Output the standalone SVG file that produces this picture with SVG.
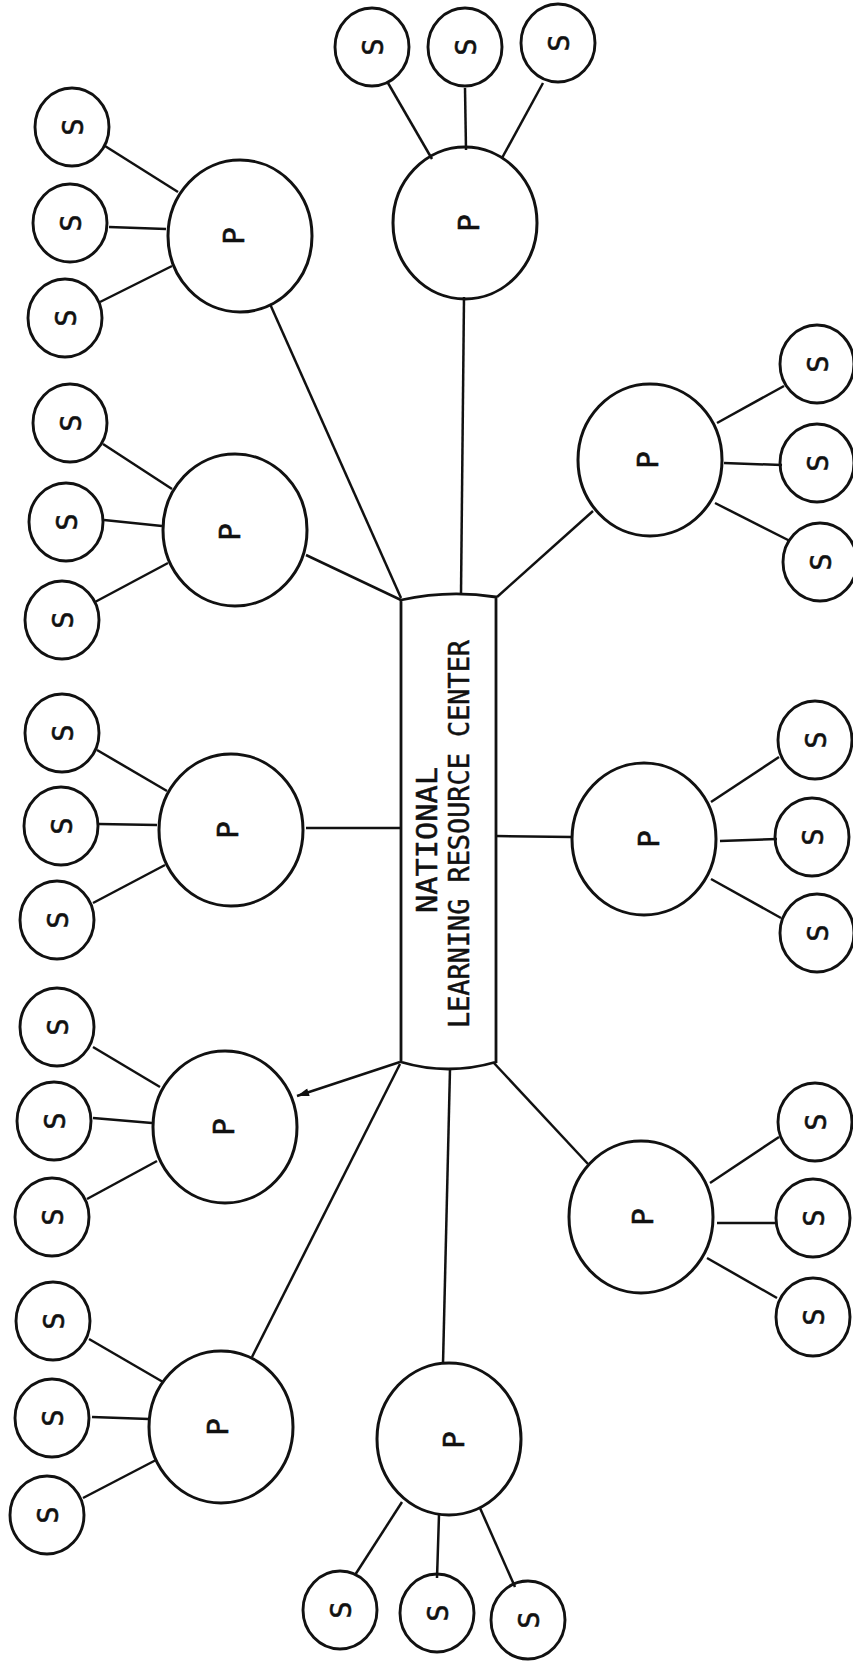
<svg xmlns="http://www.w3.org/2000/svg" width="853" height="1665" viewBox="0 0 853 1665">
<style>
  .bg{fill:#ffffff}
  .p{fill:none;stroke:#111;stroke-width:3}
  .s{fill:none;stroke:#111;stroke-width:2.9}
  .hub{fill:#fff;stroke:#111;stroke-width:2.8}
  .ln{stroke:#111;stroke-width:2.5;fill:none}
  .lbl{font-family:"DejaVu Sans Mono","Liberation Mono",monospace;font-size:29px;fill:#111;stroke:#111;stroke-width:0.6;text-anchor:middle}
  .title{font-family:"DejaVu Sans Mono","Liberation Mono",monospace;font-size:28px;fill:#111;stroke:#111;stroke-width:0.5;text-anchor:middle}
</style>
<defs>
  <marker id="arr" viewBox="0 0 12 8" refX="12" refY="4" markerWidth="13" markerHeight="8" markerUnits="userSpaceOnUse" orient="auto">
    <path d="M0,0 L12,4 L0,8 z" fill="#111"/>
  </marker>
</defs>
<rect class="bg" x="0" y="0" width="853" height="1665"/>

<g id="connectors">
  <line class="ln" x1="401" y1="598" x2="270" y2="304"/>
  <line class="ln" x1="401" y1="600" x2="306" y2="555"/>
  <line class="ln" x1="401" y1="828" x2="306" y2="828"/>
  <line class="ln" x1="400" y1="1062" x2="297" y2="1096" marker-end="url(#arr)"/>
  <line class="ln" x1="400" y1="1064" x2="252" y2="1357"/>
  <line class="ln" x1="450" y1="1069" x2="443" y2="1364"/>
  <line class="ln" x1="461" y1="594" x2="464" y2="297"/>
  <line class="ln" x1="497" y1="597" x2="593" y2="511"/>
  <line class="ln" x1="496" y1="836" x2="572" y2="837"/>
  <line class="ln" x1="493" y1="1062" x2="588" y2="1164"/>
  <line class="ln" x1="105" y1="146" x2="178" y2="192"/>
  <line class="ln" x1="109" y1="227" x2="166" y2="229"/>
  <line class="ln" x1="100" y1="302" x2="172" y2="266"/>
  <line class="ln" x1="103" y1="444" x2="172" y2="489"/>
  <line class="ln" x1="104" y1="520" x2="162" y2="526"/>
  <line class="ln" x1="95" y1="602" x2="168" y2="563"/>
  <line class="ln" x1="97" y1="750" x2="167" y2="791"/>
  <line class="ln" x1="99" y1="824" x2="157" y2="825"/>
  <line class="ln" x1="93" y1="903" x2="165" y2="865"/>
  <line class="ln" x1="93" y1="1047" x2="160" y2="1087"/>
  <line class="ln" x1="93" y1="1118" x2="152" y2="1123"/>
  <line class="ln" x1="87" y1="1199" x2="157" y2="1161"/>
  <line class="ln" x1="89" y1="1339" x2="163" y2="1382"/>
  <line class="ln" x1="92" y1="1417" x2="149" y2="1419"/>
  <line class="ln" x1="83" y1="1498" x2="156" y2="1460"/>
  <line class="ln" x1="355" y1="1575" x2="402" y2="1502"/>
  <line class="ln" x1="437" y1="1578" x2="439" y2="1515"/>
  <line class="ln" x1="515" y1="1587" x2="480" y2="1508"/>
  <line class="ln" x1="388" y1="83" x2="432" y2="159"/>
  <line class="ln" x1="465" y1="88" x2="466" y2="150"/>
  <line class="ln" x1="543" y1="83" x2="502" y2="158"/>
  <line class="ln" x1="784" y1="386" x2="717" y2="423"/>
  <line class="ln" x1="782" y1="465" x2="724" y2="463"/>
  <line class="ln" x1="790" y1="541" x2="715" y2="503"/>
  <line class="ln" x1="779" y1="757" x2="711" y2="802"/>
  <line class="ln" x1="777" y1="839" x2="720" y2="841"/>
  <line class="ln" x1="781" y1="918" x2="711" y2="879"/>
  <line class="ln" x1="779" y1="1137" x2="710" y2="1183"/>
  <line class="ln" x1="776" y1="1223" x2="717" y2="1223"/>
  <line class="ln" x1="777" y1="1298" x2="707" y2="1258"/>
</g>

<g id="hub">
  <path class="hub" d="M401,600 L401,1062 Q448,1076 496,1062 L496,597 Q448,589.5 401,600 Z"/>
  <text class="title" transform="translate(437,840) rotate(-90)" textLength="146" lengthAdjust="spacingAndGlyphs">NATIONAL</text>
  <text class="title" transform="translate(469,834) rotate(-90)" textLength="388" lengthAdjust="spacingAndGlyphs">LEARNING RESOURCE CENTER</text>
</g>

<g id="p1"><ellipse class="p" cx="240" cy="236" rx="72" ry="76"/><text class="lbl" transform="translate(244,236) rotate(-90)">P</text></g>
<g id="p2"><ellipse class="p" cx="235" cy="530" rx="72" ry="76"/><text class="lbl" transform="translate(240,532) rotate(-90)">P</text></g>
<g id="p3"><ellipse class="p" cx="231" cy="830" rx="72" ry="76"/><text class="lbl" transform="translate(238,830) rotate(-90)">P</text></g>
<g id="p4"><ellipse class="p" cx="225" cy="1127" rx="72" ry="76"/><text class="lbl" transform="translate(234,1127) rotate(-90)">P</text></g>
<g id="p5"><ellipse class="p" cx="221" cy="1427" rx="72" ry="76"/><text class="lbl" transform="translate(228,1427) rotate(-90)">P</text></g>
<g id="p6"><ellipse class="p" cx="449" cy="1439" rx="72" ry="76"/><text class="lbl" transform="translate(464,1440) rotate(-90)">P</text></g>
<g id="p7"><ellipse class="p" cx="465" cy="223" rx="72" ry="76"/><text class="lbl" transform="translate(479,223) rotate(-90)">P</text></g>
<g id="p8"><ellipse class="p" cx="650" cy="460" rx="72" ry="76"/><text class="lbl" transform="translate(658,460) rotate(-90)">P</text></g>
<g id="p9"><ellipse class="p" cx="644" cy="839" rx="72" ry="76"/><text class="lbl" transform="translate(659,839) rotate(-90)">P</text></g>
<g id="p10"><ellipse class="p" cx="641" cy="1217" rx="72" ry="76"/><text class="lbl" transform="translate(653,1217) rotate(-90)">P</text></g>

<g id="s1a"><ellipse class="s" cx="72" cy="127" rx="37" ry="39"/><text class="lbl" transform="translate(83,127) rotate(-90)">S</text></g>
<g id="s1b"><ellipse class="s" cx="70" cy="223" rx="37" ry="39"/><text class="lbl" transform="translate(81,223) rotate(-90)">S</text></g>
<g id="s1c"><ellipse class="s" cx="65" cy="318" rx="37" ry="39"/><text class="lbl" transform="translate(76,318) rotate(-90)">S</text></g>
<g id="s2a"><ellipse class="s" cx="70" cy="423" rx="37" ry="39"/><text class="lbl" transform="translate(81,423) rotate(-90)">S</text></g>
<g id="s2b"><ellipse class="s" cx="66" cy="522" rx="37" ry="39"/><text class="lbl" transform="translate(77,522) rotate(-90)">S</text></g>
<g id="s2c"><ellipse class="s" cx="62" cy="620" rx="37" ry="39"/><text class="lbl" transform="translate(73,620) rotate(-90)">S</text></g>
<g id="s3a"><ellipse class="s" cx="62" cy="733" rx="37" ry="39"/><text class="lbl" transform="translate(73,733) rotate(-90)">S</text></g>
<g id="s3b"><ellipse class="s" cx="61" cy="826" rx="37" ry="39"/><text class="lbl" transform="translate(72,826) rotate(-90)">S</text></g>
<g id="s3c"><ellipse class="s" cx="57" cy="920" rx="37" ry="39"/><text class="lbl" transform="translate(68,920) rotate(-90)">S</text></g>
<g id="s4a"><ellipse class="s" cx="57" cy="1027" rx="37" ry="39"/><text class="lbl" transform="translate(68,1027) rotate(-90)">S</text></g>
<g id="s4b"><ellipse class="s" cx="54" cy="1121" rx="37" ry="39"/><text class="lbl" transform="translate(65,1121) rotate(-90)">S</text></g>
<g id="s4c"><ellipse class="s" cx="52" cy="1217" rx="37" ry="39"/><text class="lbl" transform="translate(63,1217) rotate(-90)">S</text></g>
<g id="s5a"><ellipse class="s" cx="53" cy="1321" rx="37" ry="39"/><text class="lbl" transform="translate(64,1321) rotate(-90)">S</text></g>
<g id="s5b"><ellipse class="s" cx="52" cy="1418" rx="37" ry="39"/><text class="lbl" transform="translate(63,1418) rotate(-90)">S</text></g>
<g id="s5c"><ellipse class="s" cx="47" cy="1515" rx="37" ry="39"/><text class="lbl" transform="translate(58,1515) rotate(-90)">S</text></g>
<g id="s6a"><ellipse class="s" cx="340" cy="1610" rx="37" ry="39"/><text class="lbl" transform="translate(351,1610) rotate(-90)">S</text></g>
<g id="s6b"><ellipse class="s" cx="437" cy="1613" rx="37" ry="39"/><text class="lbl" transform="translate(448,1613) rotate(-90)">S</text></g>
<g id="s6c"><ellipse class="s" cx="528" cy="1620" rx="37" ry="39"/><text class="lbl" transform="translate(539,1620) rotate(-90)">S</text></g>
<g id="s7a"><ellipse class="s" cx="372" cy="47" rx="37" ry="39"/><text class="lbl" transform="translate(383,47) rotate(-90)">S</text></g>
<g id="s7b"><ellipse class="s" cx="465" cy="47" rx="37" ry="39"/><text class="lbl" transform="translate(476,47) rotate(-90)">S</text></g>
<g id="s7c"><ellipse class="s" cx="558" cy="43" rx="37" ry="39"/><text class="lbl" transform="translate(569,43) rotate(-90)">S</text></g>
<g id="s8a"><ellipse class="s" cx="817" cy="364" rx="37" ry="39"/><text class="lbl" transform="translate(828,364) rotate(-90)">S</text></g>
<g id="s8b"><ellipse class="s" cx="817" cy="463" rx="37" ry="39"/><text class="lbl" transform="translate(828,463) rotate(-90)">S</text></g>
<g id="s8c"><ellipse class="s" cx="820" cy="562" rx="37" ry="39"/><text class="lbl" transform="translate(831,562) rotate(-90)">S</text></g>
<g id="s9a"><ellipse class="s" cx="815" cy="740" rx="37" ry="39"/><text class="lbl" transform="translate(826,740) rotate(-90)">S</text></g>
<g id="s9b"><ellipse class="s" cx="812" cy="837" rx="37" ry="39"/><text class="lbl" transform="translate(823,837) rotate(-90)">S</text></g>
<g id="s9c"><ellipse class="s" cx="817" cy="933" rx="37" ry="39"/><text class="lbl" transform="translate(828,933) rotate(-90)">S</text></g>
<g id="s10a"><ellipse class="s" cx="815" cy="1122" rx="37" ry="39"/><text class="lbl" transform="translate(826,1122) rotate(-90)">S</text></g>
<g id="s10b"><ellipse class="s" cx="813" cy="1218" rx="37" ry="39"/><text class="lbl" transform="translate(824,1218) rotate(-90)">S</text></g>
<g id="s10c"><ellipse class="s" cx="813" cy="1317" rx="37" ry="39"/><text class="lbl" transform="translate(824,1317) rotate(-90)">S</text></g>
</svg>
